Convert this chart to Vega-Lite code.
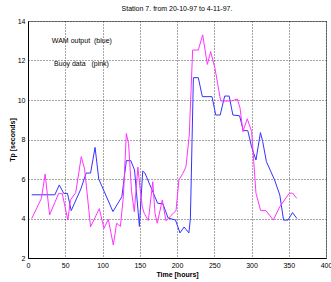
{
  "$schema": "https://vega.github.io/schema/vega-lite/v6.json",
  "autosize": "none",
  "width": 298,
  "height": 237,
  "padding": {"left": 28, "top": 21, "right": 5, "bottom": 24},
  "background": "white",
  "config": {
    "view": {"stroke": "#888888", "strokeWidth": 1},
    "font": "Liberation Sans"
  },
  "title": {
    "text": "Station 7. from 20-10-97 to 4-11-97.",
    "fontSize": 7,
    "fontWeight": "normal",
    "font": "Liberation Sans",
    "color": "black",
    "anchor": "middle",
    "offset": 5
  },
  "datasets": {
    "series": [
      {"s": "WAM", "t": 5, "tp": 5.2},
      {"s": "WAM", "t": 36, "tp": 5.2},
      {"s": "WAM", "t": 42, "tp": 5.7},
      {"s": "WAM", "t": 48, "tp": 5.27},
      {"s": "WAM", "t": 53, "tp": 5.27},
      {"s": "WAM", "t": 58, "tp": 4.4},
      {"s": "WAM", "t": 71, "tp": 5.5},
      {"s": "WAM", "t": 78, "tp": 6.3},
      {"s": "WAM", "t": 84, "tp": 6.3},
      {"s": "WAM", "t": 90, "tp": 7.6},
      {"s": "WAM", "t": 95, "tp": 6.0},
      {"s": "WAM", "t": 114, "tp": 4.35},
      {"s": "WAM", "t": 126, "tp": 5.1},
      {"s": "WAM", "t": 132, "tp": 6.93},
      {"s": "WAM", "t": 138, "tp": 6.93},
      {"s": "WAM", "t": 143, "tp": 6.46},
      {"s": "WAM", "t": 149.5, "tp": 3.6},
      {"s": "WAM", "t": 154, "tp": 6.4},
      {"s": "WAM", "t": 157, "tp": 6.3},
      {"s": "WAM", "t": 174, "tp": 4.77},
      {"s": "WAM", "t": 181, "tp": 4.75},
      {"s": "WAM", "t": 188, "tp": 4.03},
      {"s": "WAM", "t": 198, "tp": 3.92},
      {"s": "WAM", "t": 204, "tp": 3.27},
      {"s": "WAM", "t": 209.5, "tp": 3.57},
      {"s": "WAM", "t": 216, "tp": 3.27},
      {"s": "WAM", "t": 218, "tp": 4.03},
      {"s": "WAM", "t": 222, "tp": 11.13},
      {"s": "WAM", "t": 228.6, "tp": 11.13},
      {"s": "WAM", "t": 234, "tp": 10.17},
      {"s": "WAM", "t": 247, "tp": 10.17},
      {"s": "WAM", "t": 252, "tp": 9.24},
      {"s": "WAM", "t": 258, "tp": 9.24},
      {"s": "WAM", "t": 264, "tp": 10.2},
      {"s": "WAM", "t": 270, "tp": 10.2},
      {"s": "WAM", "t": 275, "tp": 9.24},
      {"s": "WAM", "t": 284, "tp": 9.2},
      {"s": "WAM", "t": 289, "tp": 8.45},
      {"s": "WAM", "t": 295, "tp": 8.45},
      {"s": "WAM", "t": 300, "tp": 7.64},
      {"s": "WAM", "t": 306, "tp": 6.96},
      {"s": "WAM", "t": 312, "tp": 8.35},
      {"s": "WAM", "t": 315, "tp": 7.9},
      {"s": "WAM", "t": 320, "tp": 6.88},
      {"s": "WAM", "t": 331, "tp": 5.95},
      {"s": "WAM", "t": 338, "tp": 5.19},
      {"s": "WAM", "t": 343, "tp": 3.92},
      {"s": "WAM", "t": 349, "tp": 3.92},
      {"s": "WAM", "t": 355, "tp": 4.3},
      {"s": "WAM", "t": 361, "tp": 4.0},
      {"s": "Buoy", "t": 5, "tp": 4.0},
      {"s": "Buoy", "t": 18, "tp": 5.02},
      {"s": "Buoy", "t": 23, "tp": 6.25},
      {"s": "Buoy", "t": 29, "tp": 4.18},
      {"s": "Buoy", "t": 41, "tp": 5.26},
      {"s": "Buoy", "t": 46, "tp": 5.26},
      {"s": "Buoy", "t": 53.5, "tp": 3.92},
      {"s": "Buoy", "t": 57, "tp": 4.94},
      {"s": "Buoy", "t": 64, "tp": 5.3},
      {"s": "Buoy", "t": 71.5, "tp": 7.13},
      {"s": "Buoy", "t": 76, "tp": 6.5},
      {"s": "Buoy", "t": 84, "tp": 3.58},
      {"s": "Buoy", "t": 95.7, "tp": 4.5},
      {"s": "Buoy", "t": 102, "tp": 3.5},
      {"s": "Buoy", "t": 107.8, "tp": 3.96},
      {"s": "Buoy", "t": 114.5, "tp": 2.66},
      {"s": "Buoy", "t": 119, "tp": 3.76},
      {"s": "Buoy", "t": 124, "tp": 3.6},
      {"s": "Buoy", "t": 128, "tp": 5.1},
      {"s": "Buoy", "t": 132, "tp": 8.3},
      {"s": "Buoy", "t": 135, "tp": 7.8},
      {"s": "Buoy", "t": 139, "tp": 5.36},
      {"s": "Buoy", "t": 142.7, "tp": 4.34},
      {"s": "Buoy", "t": 147.5, "tp": 6.6},
      {"s": "Buoy", "t": 150.5, "tp": 5.5},
      {"s": "Buoy", "t": 153.4, "tp": 4.6},
      {"s": "Buoy", "t": 156, "tp": 4.26},
      {"s": "Buoy", "t": 161.5, "tp": 3.9},
      {"s": "Buoy", "t": 167.5, "tp": 5.86},
      {"s": "Buoy", "t": 170.5, "tp": 4.26},
      {"s": "Buoy", "t": 173.5, "tp": 3.76},
      {"s": "Buoy", "t": 180.3, "tp": 4.94},
      {"s": "Buoy", "t": 185.2, "tp": 3.88},
      {"s": "Buoy", "t": 192, "tp": 4.15},
      {"s": "Buoy", "t": 198.7, "tp": 4.4},
      {"s": "Buoy", "t": 202.5, "tp": 5.95},
      {"s": "Buoy", "t": 208, "tp": 6.29},
      {"s": "Buoy", "t": 212, "tp": 6.62},
      {"s": "Buoy", "t": 216.5, "tp": 8.23},
      {"s": "Buoy", "t": 221, "tp": 12.53},
      {"s": "Buoy", "t": 228.6, "tp": 12.53},
      {"s": "Buoy", "t": 234.5, "tp": 13.3},
      {"s": "Buoy", "t": 240.7, "tp": 11.8},
      {"s": "Buoy", "t": 245.2, "tp": 12.45},
      {"s": "Buoy", "t": 251, "tp": 11.6},
      {"s": "Buoy", "t": 258.6, "tp": 9.95},
      {"s": "Buoy", "t": 273.4, "tp": 9.95},
      {"s": "Buoy", "t": 281, "tp": 10.05},
      {"s": "Buoy", "t": 284.6, "tp": 9.6},
      {"s": "Buoy", "t": 288.5, "tp": 8.4},
      {"s": "Buoy", "t": 294.3, "tp": 9.05},
      {"s": "Buoy", "t": 300.2, "tp": 8.4},
      {"s": "Buoy", "t": 306, "tp": 5.28},
      {"s": "Buoy", "t": 312.3, "tp": 4.4},
      {"s": "Buoy", "t": 319.4, "tp": 4.4},
      {"s": "Buoy", "t": 329.3, "tp": 3.92},
      {"s": "Buoy", "t": 338, "tp": 4.6},
      {"s": "Buoy", "t": 350.7, "tp": 5.28},
      {"s": "Buoy", "t": 355.3, "tp": 5.28},
      {"s": "Buoy", "t": 360.7, "tp": 5.02}
    ],
    "notes": [
      {"t": 32, "tp": 12.99, "label": "WAM output\u00a0 (blue)"},
      {"t": 35, "tp": 11.82, "label": "Buoy data\u00a0\u00a0 (pink)"}
    ]
  },
  "encoding": {
    "x": {
      "field": "t", "type": "quantitative",
      "scale": {"domain": [0, 400], "nice": false, "zero": false},
      "axis": {
        "title": "Time [hours]",
        "values": [0, 50, 100, 150, 200, 250, 300, 350, 400],
        "labelOverlap": false,
        "grid": true, "gridColor": "#222222", "gridDash": [1, 2], "gridWidth": 1, "gridOpacity": 0.8,
        "domainColor": "black", "domainWidth": 1,
        "ticks": false,
        "labelFontSize": 7, "labelColor": "black", "labelPadding": 3,
        "labelFont": "Liberation Sans",
        "titleFontSize": 7, "titleFontWeight": "bold", "titleColor": "black", "titlePadding": 2,
        "titleFont": "Liberation Sans",
        "labelFlush": false
      }
    },
    "y": {
      "field": "tp", "type": "quantitative",
      "scale": {"domain": [2, 14], "nice": false, "zero": false},
      "axis": {
        "title": "Tp [seconds]",
        "values": [2, 4, 6, 8, 10, 12, 14],
        "labelOverlap": false,
        "grid": true, "gridColor": "#222222", "gridDash": [1, 2], "gridWidth": 1, "gridOpacity": 0.8,
        "domainColor": "black", "domainWidth": 1,
        "ticks": false,
        "labelFontSize": 7, "labelColor": "black", "labelPadding": 3,
        "labelFont": "Liberation Sans",
        "titleFontSize": 7, "titleFontWeight": "bold", "titleColor": "black", "titlePadding": 2,
        "titleFont": "Liberation Sans",
        "labelFlush": false
      }
    }
  },
  "layer": [
    {
      "data": {"name": "series"},
      "mark": {"type": "line", "strokeWidth": 1, "clip": true},
      "encoding": {
        "color": {
          "field": "s", "type": "nominal",
          "scale": {"domain": ["WAM", "Buoy"], "range": ["#3333ff", "#ff33ff"]},
          "legend": null
        },
        "order": {"field": "t", "type": "quantitative"}
      }
    },
    {
      "data": {"name": "notes"},
      "mark": {"type": "text", "align": "left", "baseline": "middle", "fontSize": 7, "font": "Liberation Sans", "color": "black"},
      "encoding": {
        "text": {"field": "label"}
      }
    }
  ]
}
